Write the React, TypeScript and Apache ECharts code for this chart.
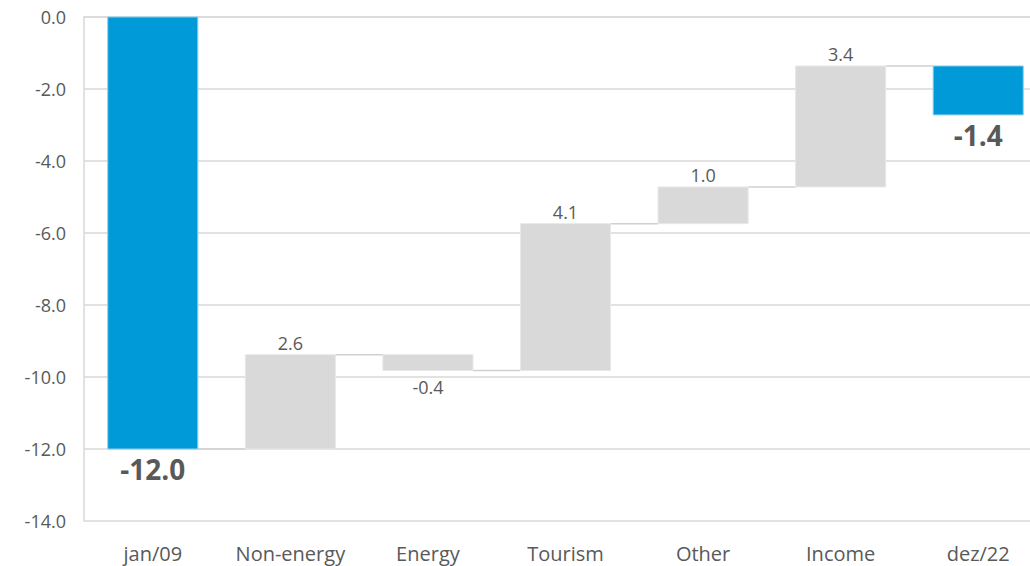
import React, { useEffect, useRef } from "react";
import * as echarts from "echarts";

const categories = ["jan/09", "Non-energy", "Energy", "Tourism", "Other", "Income", "dez/22"];
const startValue = -12.0;
const changes = [2.62, -0.44, 4.08, 1.02, 3.36];
const yMin = -14;
const yMax = 0;
const yInterval = 2;

const BLUE = "#009AD8";
const GREY = "#D9D9D9";
const TEXT = "#595959";
const FONT = "'Open Sans', 'Noto Sans', sans-serif";

type Bar = { lo: number; hi: number; label: string; total: boolean; below: boolean };

function buildBars(): { bars: Bar[]; connectors: number[] } {
  const bars: Bar[] = [];
  const connectors: number[] = [];
  bars.push({ lo: Math.min(startValue, 0), hi: Math.max(startValue, 0), label: startValue.toFixed(1), total: true, below: startValue < 0 });
  let running = startValue;
  connectors.push(running);
  changes.forEach((c) => {
    const prev = running;
    running = prev + c;
    bars.push({ lo: Math.min(prev, running), hi: Math.max(prev, running), label: c.toFixed(1), total: false, below: c < 0 });
    connectors.push(running);
  });
  // final total drawn stacked on an invisible base equal to itself (as in the source chart)
  bars.push({ lo: running * 2, hi: running, label: running.toFixed(1), total: true, below: true });
  return { bars, connectors };
}

export default function App() {
  const ref = useRef<HTMLDivElement>(null);
  useEffect(() => {
    if (!ref.current) return;
    const chart = echarts.init(ref.current, undefined, { renderer: "svg" });
    const { bars, connectors } = buildBars();
    const BW = 0.655;
    chart.setOption({
      animation: false,
      grid: { left: 84, right: 0, top: 17, bottom: 45, containLabel: false },
      xAxis: {
        type: "category",
        data: categories,
        axisLine: { show: true, lineStyle: { color: "#D9D9D9", width: 1.5 } },
        axisTick: { show: false },
        axisLabel: { color: TEXT, fontFamily: FONT, fontSize: 20, margin: 22, interval: 0 },
      },
      yAxis: {
        type: "value",
        min: yMin,
        max: yMax,
        interval: yInterval,
        axisLine: { show: true, lineStyle: { color: "#D9D9D9", width: 1.5 } },
        axisTick: { show: false },
        splitLine: { show: true, lineStyle: { color: "#D9D9D9", width: 1.5 } },
        axisLabel: { color: TEXT, fontFamily: FONT, fontSize: 18, margin: 18, formatter: (v: number) => v.toFixed(1) },
      },
      series: [
        {
          type: "custom",
          data: connectors.map((lvl, i) => [i, lvl]),
          renderItem: (params: any, api: any) => {
            const i = api.value(0);
            const lvl = api.value(1);
            const a = api.coord([i, lvl]);
            const b = api.coord([i + 1, lvl]);
            const w = api.size([1, 0])[0] * BW;
            return {
              type: "line",
              shape: { x1: a[0] + w / 2, y1: a[1], x2: b[0] - w / 2, y2: b[1] },
              style: { stroke: "#D0D0D0", lineWidth: 1.5 },
            };
          },
          z: 1,
        },
        {
          type: "custom",
          data: bars.map((b, i) => [i, b.lo, b.hi]),
          renderItem: (params: any, api: any) => {
            const bar = bars[params.dataIndex];
            const i = api.value(0);
            const top = api.coord([i, api.value(2)]);
            const bot = api.coord([i, api.value(1)]);
            const w = api.size([1, 0])[0] * BW;
            const cx = top[0];
            const children: any[] = [
              {
                type: "rect",
                shape: { x: cx - w / 2, y: top[1], width: w, height: bot[1] - top[1] },
                style: { fill: bar.total ? BLUE : GREY, stroke: bar.total ? "#8FD0EE" : "#E8E8E8", lineWidth: 1 },
              },
            ];
            children.push({
              type: "text",
              x: cx,
              y: bar.below ? bot[1] + (bar.total ? 6 : 7) : top[1] - 3,
              style: {
                text: bar.label,
                fill: TEXT,
                font: bar.total ? `bold 28px ${FONT}` : `18px ${FONT}`,
                textAlign: "center",
                textVerticalAlign: bar.below ? "top" : "bottom",
              },
            });
            return { type: "group", children };
          },
          z: 2,
        },
      ],
    });
    return () => chart.dispose();
  }, []);
  return (
    <div style={{ position: "absolute", left: 0, top: 0, width: 1030, height: 566, overflow: "hidden" }}>
      <div ref={ref} style={{ width: 1047, height: 566 }} />
    </div>
  );
}
